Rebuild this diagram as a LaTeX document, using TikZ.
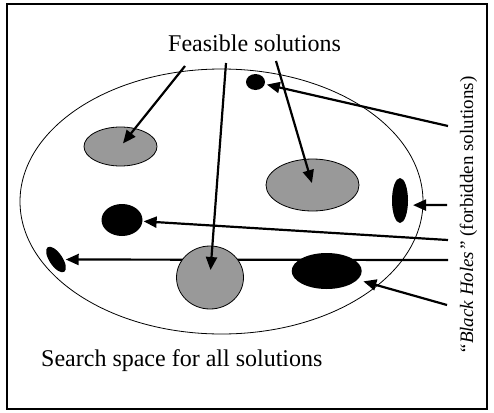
\documentclass[tikz,border=0pt]{standalone}
\usepackage{fontspec}
\setmainfont{Liberation Serif}
\usetikzlibrary{shapes.geometric,arrows.meta}
\definecolor{regiongray}{RGB}{153,153,153}
\begin{document}
\begin{tikzpicture}[x=1pt,y=-1pt,
  frame/.style={line width=1.7pt},
  space/.style={ellipse, draw, line width=0.8pt, inner sep=0pt},
  feasible/.style={ellipse, draw, line width=0.8pt, fill=regiongray, inner sep=0pt},
  hole/.style={ellipse, fill=black, inner sep=0pt},
  arr/.style={line width=2.2pt, -{Triangle[length=13pt,width=11pt]}},
  biglab/.style={font=\fontsize{24}{28}\selectfont, inner sep=0pt},
  sidelab/.style={font=\fontsize{19}{23}\selectfont, inner sep=0pt}]
\useasboundingbox (0,0) rectangle (494,412);
\draw[frame] (7,4) rectangle (487,409);
% search space
\node[space, minimum width=403pt, minimum height=265pt] (space) at (221.5,201.5) {};
% label start points
\coordinate (fs1) at (185,66);
\coordinate (fs2) at (226,63);
\coordinate (fs3) at (276,61);
\coordinate (hs1) at (448,126);
\coordinate (hs2) at (447,205);
\coordinate (hs3) at (448,240);
\coordinate (hs4) at (448,260);
\coordinate (hs5) at (447,305);
% black hole far left (arrow hidden behind gray circle)
\node[hole, minimum width=13pt, minimum height=29.6pt, rotate=34] (h4) at (56,259.5) {};
\draw[arr, shorten >=2pt] (hs4) -- (h4);
% feasible regions
\node[feasible, minimum width=73pt, minimum height=39pt] (g1) at (120.5,146.5) {};
\node[feasible, minimum width=93pt, minimum height=52pt] (g2) at (312.5,185) {};
\node[feasible, minimum width=67pt, minimum height=63pt] (g3) at (210,277.5) {};
% black holes
\node[hole, minimum width=19pt, minimum height=16pt] (h1) at (255.5,82) {};
\node[hole, minimum width=16pt, minimum height=45pt] (h2) at (400,200.5) {};
\node[hole, minimum width=41pt, minimum height=32pt] (h3) at (122,220) {};
\node[hole, minimum width=70pt, minimum height=36pt] (h5) at (326.7,271) {};
% texts
\node[biglab, anchor=base] (feas) at (254.5,52) {Feasible solutions};
\node[biglab, anchor=base west] (search) at (41,366) {Search space for all solutions};
\node[sidelab, anchor=base, rotate=90] (bh) at (473,215.5) {\textit{“Black Holes”} (forbidden solutions)};
% arrows from feasible label
\draw[arr, shorten >=4pt] (fs1) -- (g1.center);
\draw[arr, shorten >=7.5pt] (fs2) -- (g3.center);
\draw[arr, shorten >=2pt] (fs3) -- (g2.center);
% arrows from black holes label
\draw[arr, shorten >=2pt] (hs1) -- (h1);
\draw[arr, shorten >=5pt] (hs2) -- (h2.-30);
\draw[arr, shorten >=1pt] (hs3) -- (h3);
\draw[arr, shorten >=6pt] (hs5) -- (h5);
\end{tikzpicture}
\end{document}
